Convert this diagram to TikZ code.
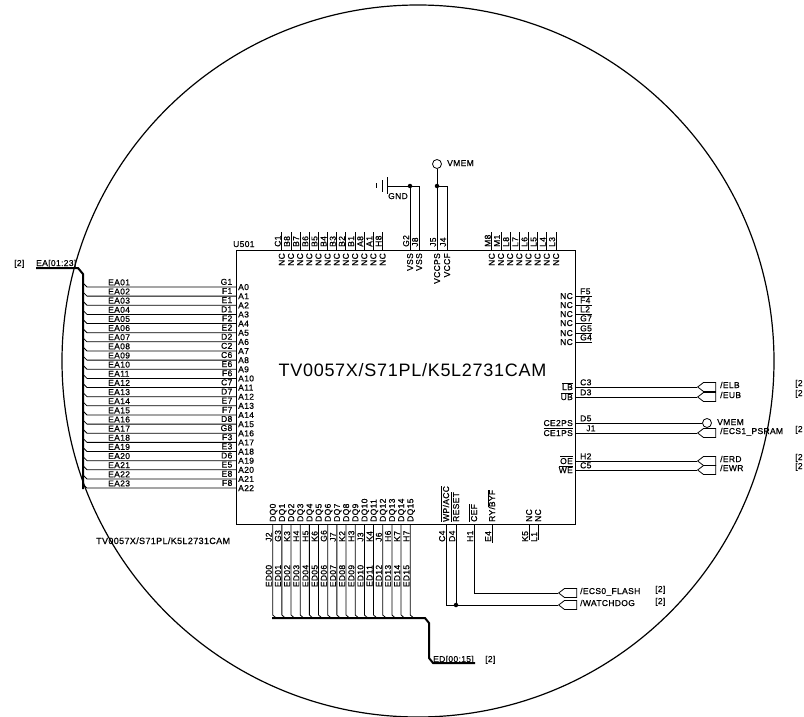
\documentclass[tikz,border=0pt]{standalone}
\usepackage{fontspec}
\setmainfont{Liberation Sans}[LetterSpace=4,FakeBold=0.7]
\newfontfamily\titlefont{Liberation Sans}[LetterSpace=4]
\usetikzlibrary{shapes.symbols}
\newcommand{\ovl}[1]{$\overline{\hbox{#1}}$}
\tikzstyle{wire} = [line width=0.8pt]
\tikzstyle{bus} = [line width=2pt]
\tikzstyle{txt} = [
        inner sep=0pt,
        text height=6pt,
        text depth=0pt,
        font=\fontsize{8.5}{9}\selectfont,
    ]
\tikzstyle{up} = [txt, rotate=90]
\tikzstyle{offpage} = [
        signal,
        signal to=west,
        signal pointer angle=75,
        minimum width=18pt,
        minimum height=9pt,
        inner sep=0pt,
        anchor=west,
        draw=black,
        wire,
    ]
\tikzstyle{hollow} = [circle, draw=black, minimum size=9pt, inner sep=0pt, wire]
\tikzstyle{dot} = [circle, fill=black, minimum size=4.5pt, inner sep=0pt]
\begin{document}
\begin{tikzpicture}[x=1pt,y=-1pt]
            \useasboundingbox (0,0) rectangle (804,717);
            \node [circle, draw=black, line width=1.2pt, minimum size=712pt, inner sep=0pt] (lens) at (418,361) {};
            \node [rectangle, draw=black, wire, minimum width=339pt, minimum height=274pt, inner sep=0pt] (u501) at (405.5,387) {};
            \node [txt, anchor=west] (refdes) at (233,244) {U501};
            \node [inner sep=0pt, font=\titlefont\fontsize{18}{20}\selectfont] (partname) at (412.5,370) {TV0057X/S71PL/K5L2731CAM};
            \node [txt, anchor=west, font=\fontsize{9}{10}\selectfont] (partnote) at (96,541) {TV0057X/S71PL/K5L2731CAM};
            % address bus
            \coordinate (eaA) at (36,268);
            \coordinate (eaB) at (78,268);
            \coordinate (eaC) at (83,274);
            \coordinate (eaD) at (83,489);
            \draw [bus] (eaA) -- (eaB) -- (eaC) -- (eaD);
            \node [txt, anchor=west] (eabus) at (36,263) {EA[01:23]};
            \node [txt, anchor=west] (easheet) at (14,263) {[2]};
            \foreach \ball/\sig [count=\i from 0] in {G1/EA01,F1/EA02,E1/EA03,D1/EA04,F2/EA05,E2/EA06,D2/EA07,C2/EA08,C6/EA09,E6/EA10,F6/EA11,C7/EA12,D7/EA13,E7/EA14,F7/EA15,D8/EA16,G8/EA17,F3/EA18,E3/EA19,D6/EA20,E5/EA21,E8/EA22,F8/EA23} {
                \pgfmathsetmacro{\ya}{287+9.14*\i}
                \coordinate (tap\i) at (83,\ya-4);
                \coordinate (pin\i) at (236,\ya);
                \draw [wire] (tap\i) -- ++(4,4) -- (pin\i);
                \node [txt, anchor=south west] (net\i) at (108,\ya-1.5) {\sig};
                \node [txt, anchor=south east] (ball\ball) at (232.5,\ya-2) {\ball};
                \node [txt, anchor=west] (name\i) at (238,\ya) {A\i};
            }
            % top no-connect pins
            \foreach \ball/\xa in {C1/281.7,B8/290.9,B7/300,B6/309.2,B5/318.4,B4/327.5,B3/336.7,B2/345.8,B1/355,A8/364.2,A1/373.3,H8/382.5,M8/491.7,M1/500.9,L8/510,L7/519.2,L6/528.4,L5/537.5,L4/546.7,L3/556} {
                \coordinate (top\ball) at (\xa,250);
                \coordinate (stub\ball) at (\xa,232);
                \draw [wire] (top\ball) -- (stub\ball);
                \node [up, anchor=west] (ball\ball) at (\xa-4,247) {\ball};
                \node [up, anchor=east] (nc\ball) at (\xa,253) {NC};
            }
            % power
            \foreach \ball/\sig/\xa in {G2/VSS/410,J8/VSS/419,J5/VCCPS/437,J4/VCCF/447} {
                \coordinate (top\ball) at (\xa,250);
                \node [up, anchor=west] (ball\ball) at (\xa-4,247) {\ball};
                \node [up, anchor=east] (name\ball) at (\xa,253) {\sig};
            }
            \coordinate (gndbar) at (387,186);
            \coordinate (gndA) at (387,177);
            \coordinate (gndB) at (387,194);
            \coordinate (gndC) at (382,180);
            \coordinate (gndD) at (382,192);
            \coordinate (gndE) at (376,183);
            \coordinate (gndF) at (376,188);
            \draw [wire] (gndA) -- (gndB);
            \draw [wire] (gndC) -- (gndD);
            \draw [wire] (gndE) -- (gndF);
            \node [dot] (gndjoin) at (410,186) {};
            \coordinate (gndend) at (419,186);
            \draw [wire] (gndbar) -- (gndjoin) -- (gndend) -- (topJ8);
            \draw [wire] (gndjoin) -- (topG2);
            \node [txt, anchor=west] (gndtxt) at (388,196) {GND};
            \node [hollow] (vmemtop) at (437,164) {};
            \node [txt, anchor=west] (vmemtxt) at (447,163) {VMEM};
            \node [dot] (vmemjoin) at (437,186) {};
            \coordinate (vmemend) at (447,186);
            \draw [wire] (vmemtop) -- (vmemjoin) -- (topJ5);
            \draw [wire] (vmemjoin) -- (vmemend) -- (topJ4);
            % right no-connect pins
            \foreach \ball/\ya in {F5/296,F4/305,L2/314,G7/323,G5/333,G4/342} {
                \coordinate (right\ball) at (575,\ya);
                \coordinate (stub\ball) at (592,\ya);
                \draw [wire] (right\ball) -- (stub\ball);
                \node [txt, anchor=south west] (ball\ball) at (580,\ya-1.5) {\ball};
                \node [txt, anchor=east] (nc\ball) at (573,\ya) {NC};
            }
            % right signals
            \foreach \ball/\xb/\pname/\sig/\ya in {C3/580/\ovl{LB}/{/ELB}/387,D3/580/\ovl{UB}/{/EUB}/397,J1/586/\ovl{CE1PS}/{/ECS1\_PSRAM}/433,H2/580/\ovl{OE}/{/ERD}/461,C5/580/\ovl{WE}/{/EWR}/470} {
                \coordinate (right\ball) at (575,\ya);
                \node [offpage] (flag\ball) at (697,\ya) {};
                \draw [wire] (right\ball) -- (flag\ball.west);
                \node [txt, anchor=south west] (ball\ball) at (\xb,\ya-1.5) {\ball};
                \node [txt, anchor=east] (name\ball) at (573,\ya) {\pname};
                \node [txt, anchor=west] (net\ball) at (720,\ya-2) {\sig};
                \node [txt, anchor=west] (sheet\ball) at (795,\ya-4) {[2};
            }
            \coordinate (rightD5) at (575,423);
            \node [hollow] (vmemright) at (707,423) {};
            \draw [wire] (rightD5) -- (vmemright);
            \node [txt, anchor=south west] (ballD5) at (580,421.5) {D5};
            \node [txt, anchor=east] (nameD5) at (573,423) {CE2PS};
            \node [txt, anchor=west] (vmemrtxt) at (717,422) {VMEM};
            % data bus
            \coordinate (edA) at (272,618);
            \coordinate (edB) at (425,618);
            \coordinate (edC) at (429,623);
            \coordinate (edD) at (429,658);
            \coordinate (edE) at (433,663);
            \coordinate (edF) at (475,663);
            \draw [bus] (edA) -- (edB) -- (edC) -- (edD) -- (edE) -- (edF);
            \node [txt, anchor=west] (edbus) at (433,659) {ED[00:15]};
            \node [txt, anchor=west] (edsheet) at (485,659) {[2]};
            \foreach \ball/\sig [count=\i from 0] in {J2/ED00,G3/ED01,K3/ED02,H4/ED03,H5/ED04,K6/ED05,G6/ED06,J7/ED07,K2/ED08,H3/ED09,J3/ED10,K4/ED11,J6/ED12,H6/ED13,K7/ED14,H7/ED15} {
                \pgfmathsetmacro{\xa}{272.7+9.17*\i}
                \coordinate (dq\i) at (\xa,524);
                \coordinate (bend\i) at (\xa,615);
                \draw [wire] (dq\i) -- (bend\i) -- ++(4,3.5);
                \node [up, anchor=west] (ball\ball) at (\xa-4,542) {\ball};
                \node [up] (net\ball) at (\xa-4,576) {\sig};
                \node [up, anchor=west] (dqname\i) at (\xa,522) {DQ\i};
            }
            % remaining bottom pins
            \foreach \ball/\pname/\xa in {C4/\ovl{WP/ACC}/446,D4/\ovl{RESET}/456,H1/\ovl{CEF}/474,E4/{RY/\ovl{BYF}}/492,K5/NC/529,L1/NC/538} {
                \coordinate (bot\ball) at (\xa,524);
                \node [up, anchor=west] (ball\ball) at (\xa-4,542) {\ball};
                \node [up, anchor=west] (name\ball) at (\xa,522) {\pname};
            }
            \coordinate (stubE4) at (492,543);
            \coordinate (stubK5) at (529,540);
            \coordinate (stubL1) at (538,540);
            \draw [wire] (botE4) -- (stubE4);
            \draw [wire] (botK5) -- (stubK5);
            \draw [wire] (botL1) -- (stubL1);
            \node [offpage] (flagecs) at (558,593) {};
            \node [offpage] (flagwd) at (558,605) {};
            \node [dot] (wdjoin) at (456,605) {};
            \coordinate (corecs) at (474,593);
            \coordinate (corwd) at (446,605);
            \draw [wire] (botH1) -- (corecs) -- (flagecs.west);
            \draw [wire] (botC4) -- (corwd) -- (wdjoin) -- (flagwd.west);
            \draw [wire] (botD4) -- (wdjoin);
            \node [txt, anchor=west] (netecs) at (580,591) {/ECS0\_FLASH};
            \node [txt, anchor=west] (netwd) at (580,603) {/WATCHDOG};
            \node [txt, anchor=west] (sheetecs) at (655,589) {[2]};
            \node [txt, anchor=west] (sheetwd) at (655,601) {[2]};
        \end{tikzpicture}
\end{document}
